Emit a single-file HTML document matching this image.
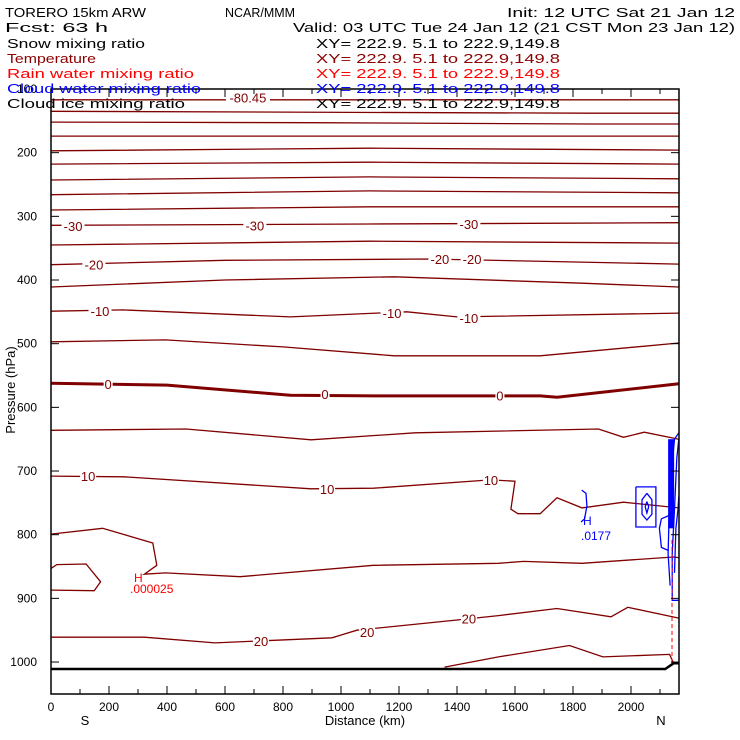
<!DOCTYPE html>
<html><head><meta charset="utf-8"><style>
html,body{margin:0;padding:0;background:#fff;}
svg{display:block;font-family:"Liberation Sans",sans-serif;}
</style></head><body>
<svg id="chart" width="740" height="740" viewBox="0 0 740 740">
<rect x="0" y="0" width="740" height="740" fill="#fff"/>
<g id="header" font-size="13">
<text x="5" y="17" textLength="141" lengthAdjust="spacingAndGlyphs">TORERO  15km ARW</text>
<text x="225" y="17" textLength="70" lengthAdjust="spacingAndGlyphs">NCAR/MMM</text>
<text x="507" y="17" textLength="228" lengthAdjust="spacingAndGlyphs">Init: 12 UTC Sat 21 Jan 12</text>
<text x="5" y="32" textLength="103" lengthAdjust="spacingAndGlyphs">Fcst:   63 h</text>
<text x="293" y="32" textLength="442" lengthAdjust="spacingAndGlyphs">Valid: 03 UTC Tue 24 Jan 12 (21 CST Mon 23 Jan 12)</text>
</g>
<g id="plot"></g>
<g id="legend" font-size="13">
<text x="7" y="48" textLength="138" lengthAdjust="spacingAndGlyphs" fill="#000">Snow mixing ratio</text>
<text x="316" y="48" textLength="244" lengthAdjust="spacingAndGlyphs" fill="#000">XY= 222.9.  5.1 to 222.9,149.8</text>
<text x="7" y="63" textLength="89" lengthAdjust="spacingAndGlyphs" fill="#8b0000">Temperature</text>
<text x="316" y="63" textLength="244" lengthAdjust="spacingAndGlyphs" fill="#8b0000">XY= 222.9.  5.1 to 222.9,149.8</text>
<text x="7" y="78" textLength="187" lengthAdjust="spacingAndGlyphs" fill="#ff0000">Rain water mixing ratio</text>
<text x="316" y="78" textLength="244" lengthAdjust="spacingAndGlyphs" fill="#ff0000">XY= 222.9.  5.1 to 222.9,149.8</text>
<text x="7" y="93" textLength="194" lengthAdjust="spacingAndGlyphs" fill="#0000ff">Cloud water mixing ratio</text>
<text x="316" y="93" textLength="244" lengthAdjust="spacingAndGlyphs" fill="#0000ff">XY= 222.9.  5.1 to 222.9,149.8</text>
<text x="7" y="108" textLength="178" lengthAdjust="spacingAndGlyphs" fill="#000">Cloud ice mixing ratio</text>
<text x="316" y="108" textLength="244" lengthAdjust="spacingAndGlyphs" fill="#000">XY= 222.9.  5.1 to 222.9,149.8</text>
</g>
</svg>
<script>
// ---- data (distance km, pressure hPa) ----
const xTicks = [0,200,400,600,800,1000,1200,1400,1600,1800,2000];
const yTicks = [100,200,300,400,500,600,700,800,900,1000];
const tA = [[0,117],[2165,117]];
const tB = [[0,135],[1860,138],[2165,138]];
const tC = [[0,152],[900,153],[1860,155],[2165,155]];
const tD = [[0,174],[2165,174]];
const tE = [[0,197],[1100,193],[2165,196]];
const tF = [[0,218],[1100,215],[2165,218]];
const tG = [[0,243],[1100,238],[2165,241]];
const tH = [[0,266],[1100,260],[2165,263]];
const tI = [[0,290],[1100,285],[2165,285]];
const tM30 = [[0,314],[1100,312],[2165,310]];
const tK = [[0,345],[1100,339],[2165,342]];
const tM20 = [[0,376],[600,369],[1300,367],[2165,375]];
const tM = [[0,411],[600,400],[1184,395],[1831,405],[2165,411]];
const tM10 = [[0,449],[250,447],[825,458],[1227,450],[1400,458],[2165,452]];
const tO = [[0,497],[394,494],[800,505],[1184,519],[1687,519],[2165,499]];
const tZero = [[0,562],[400,565],[825,581],[1112,582],[1687,582],[1745,584],[2165,563]];
const tP = [[0,636],[466,634],[897,651],[1256,640],[1888,634],[1974,647],[2046,639],[2165,650]];
const tP10 = [[0,708],[250,709],[897,728],[1112,727],[1515,714],[1600,716],[1586,760],[1610,767],[1687,767],[1745,742],[1831,758],[1974,749],[2165,758]];
const tR = [[0,799],[178,790],[351,813],[365,848],[322,862],[394,860],[652,866],[1112,848],[1543,845],[1630,842],[1831,845],[2147,835],[2165,836]];
const tS = [[0,853],[20,847],[121,846],[171,874],[149,888],[0,887]];
const tP20 = [[0,961],[322,961],[566,970],[969,962],[1055,950],[1400,934],[1543,927],[1745,916],[1931,929],[1989,914],[2165,931]];
const tQ = [[1357,1008],[1543,992],[1788,974],[1903,992],[2133,988],[2147,1002]];
const ground = [[0,1011],[2118,1011],[2147,1002],[2165,1002]];
const tempContours = [tA,tB,tC,tD,tE,tF,tG,tH,tI,tM30,tK,tM20,tM,tM10,tO,tP,tP10,tR,tS,tP20,tQ];
const zeroContour = tZero;
const labelText = ["-80.45","-30","-30","-30","-20","-20","-20","-10","-10","-10","0","0","0","10","10","10","20","20","20"];
const labelKm = [679,76,703,1441,148,1341,1452,169,1176,1441,197,945,1548,128,952,1517,724,1090,1441];
const labelP = [113,315,314,312,376,367,367,449,452,460,563,579,581,708,728,714,967,953,932];
const cloudLoops = [
  [[1830,730],[1845,735],[1848,755],[1840,775],[1828,780]],
  [[2017,725],[2086,725],[2086,788],[2017,788],[2017,725]],
  [[2055,735],[2072,745],[2072,768],[2055,777],[2038,768],[2038,745],[2055,735]],
  [[2055,748],[2061,756],[2055,766],[2049,756],[2055,748]],
  [[2130,825],[2105,820],[2098,790],[2105,775],[2130,770]],
  [[2135,880],[2128,830],[2132,760],[2140,700],[2150,650],[2165,640]],
  [[2165,903],[2142,903],[2142,830],[2150,760],[2158,680],[2165,650]],
  [[2150,860],[2155,790],[2162,760],[2165,740]]
];
const xTitle = "Distance (km)";
const yTitle = "Pressure (hPa)";

// ---- axis functions ----
const X0=51, X1=679, Y0=89, Y1=694;
function xS(km){ return X0 + km*0.29; }
function yS(p){ return Y0 + (p-100)*0.6367; }
const NS="http://www.w3.org/2000/svg";
const plot=document.getElementById('plot');
function mk(tag, attrs, parent){ const e=document.createElementNS(NS,tag); for(const k in attrs) e.setAttribute(k,attrs[k]); (parent||plot).appendChild(e); return e; }
function pts(arr){ return arr.map(d=>xS(d[0]).toFixed(1)+','+yS(d[1]).toFixed(1)).join(' '); }

tempContours.forEach((c,i)=>{
  const l=mk('polyline',{points:pts(c),fill:'none',stroke:'#800000','stroke-width':1.3});
  
  
});
const z=mk('polyline',{points:pts(zeroContour),fill:'none',stroke:'#800000','stroke-width':3});


const g=mk('polyline',{points:pts(ground),fill:'none',stroke:'#000','stroke-width':2.5});



cloudLoops.forEach(c=>{
  const l=mk('polyline',{points:pts(c),fill:'none',stroke:'#0000ff','stroke-width':1.3});
  
  
});
const dense=mk('rect',{x:xS(2128),y:yS(650),width:6,height:yS(790)-yS(650),fill:'#0000ff'});


const dash=mk('line',{x1:672,y1:540,x2:672,y2:663,stroke:'#ff0000','stroke-width':1,'stroke-dasharray':'4,3'});



// labels on contours
labelText.forEach((t,i)=>{
  const x=xS(labelKm[i]), y=yS(labelP[i]);
  const w=t.length*7+2;
  const r=mk('rect',{x:x-w/2,y:y-7,width:w,height:14,fill:'#fff'});
  
  
  const tx=mk('text',{x:x,y:y+5,'text-anchor':'middle','font-size':13,fill:'#800000'});
  tx.textContent=t;
  
  
});
function txt(x,y,s,fill,name,size,anchor){ const t=mk('text',{x:x,y:y,'font-size':size||12,fill:fill,'text-anchor':anchor||'start'}); t.textContent=s;   return t; }
txt(134,582,'H','#ff0000','rain-max-marker');
txt(130,593,'.000025','#ff0000','rain-max-value');
txt(583,525,'H','#0000ff','cloud-max-marker');
txt(581,540,'.0177','#0000ff','cloud-max-value');

// frame
const fr=mk('rect',{x:X0,y:Y0,width:X1-X0,height:Y1-Y0,fill:'none',stroke:'#000','stroke-width':1.5});


for(let km=0; km<=2100; km+=100){
  const x=xS(km), L=(km%200===0)?8:5;
  const t1=mk('line',{x1:x,y1:Y1,x2:x,y2:Y1-L,stroke:'#000','stroke-width':1});
  
  
  const t2=mk('line',{x1:x,y1:Y0,x2:x,y2:Y0+L,stroke:'#000','stroke-width':1});
  
  
}
xTicks.forEach(v=>{ txt(xS(v),711,String(v),'#000','x-tick-label',12,'middle'); });
yTicks.forEach(v=>{
  const y=yS(v);
  const a=mk('line',{x1:X0,y1:y,x2:X0+8,y2:y,stroke:'#000','stroke-width':1});
  
  
  const b=mk('line',{x1:X1,y1:y,x2:X1-8,y2:y,stroke:'#000','stroke-width':1});
  
  
  txt(37,y+4,String(v),'#000','y-tick-label',12,'end');
});
txt(365,725,xTitle,'#000','x-axis-title',13,'middle');
txt(85,725,'S','#000','south-label',13,'middle');
txt(661,725,'N','#000','north-label',13,'middle');
const yt=txt(0,0,yTitle,'#000','y-axis-title',13,'middle');
yt.setAttribute('transform','translate(15,390) rotate(-90)');
</script>
</body></html>
